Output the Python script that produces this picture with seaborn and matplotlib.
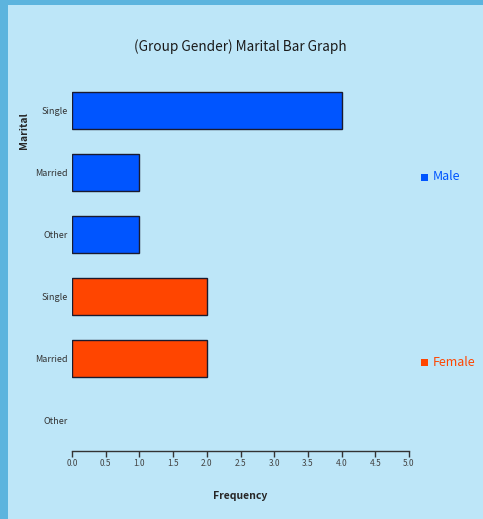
import pandas as pd
import matplotlib.pyplot as plt
import matplotlib.patches as mpatches
import seaborn as sns

# data
genders = ['Male', 'Male', 'Male', 'Female', 'Female', 'Female']
marital = ['Single', 'Married', 'Other', 'Single', 'Married', 'Other']
frequency = [4, 1, 1, 2, 2, 0]
gender_colors = {'Male': '#0055ff', 'Female': '#ff4500'}

df = pd.DataFrame({'Gender': genders, 'Marital': marital, 'Frequency': frequency})
df['key'] = df['Gender'] + ' ' + df['Marital']

sns.set_style('white')
plt.rcParams['font.family'] = ['Noto Sans CJK KR', 'DejaVu Sans']

fig = plt.figure(figsize=(4.83, 5.19), dpi=100)
fig.patch.set_facecolor('#5cb4de')
# light panel inside the window frame
fig.patches.append(mpatches.Rectangle((8 / 483, 0), 1, 1 - 5 / 519, transform=fig.transFigure,
                                      facecolor='#bde6f8', edgecolor='none', zorder=-10))

ax = fig.add_axes([72 / 483, 1 - 451 / 519, 337 / 483, 371 / 519])
ax.set_facecolor('none')

sns.barplot(data=df, x='Frequency', y='key', hue='Gender', palette=gender_colors,
            dodge=False, width=0.6, saturation=1, edgecolor='#1a1a2e', linewidth=1,
            legend=False, ax=ax)

# no outline for empty bars
for bar in ax.patches:
    if bar.get_width() == 0:
        bar.set_linewidth(0)

ax.set_xlim(0, 5)
ax.set_ylim(5.5, -0.5)
ax.set_xticks([0, 0.5, 1, 1.5, 2, 2.5, 3, 3.5, 4, 4.5, 5])
ax.set_xticklabels(['0.0', '0.5', '1.0', '1.5', '2.0', '2.5', '3.0', '3.5', '4.0', '4.5', '5.0'],
                   fontsize=6, color='#444444')
ax.set_yticks(range(len(marital)))
ax.set_yticklabels(marital, fontsize=6.5, color='#333333')
ax.tick_params(axis='y', length=0, pad=3)
ax.tick_params(axis='x', length=4, width=1, color='#333333', direction='out', pad=2, bottom=True)

for s in ['top', 'right', 'left']:
    ax.spines[s].set_visible(False)
ax.spines['bottom'].set_color('#333333')
ax.spines['bottom'].set_linewidth(1)

ax.set_xlabel('Frequency', fontsize=7.5, fontweight='bold', labelpad=16)
ax.set_ylabel('Marital', fontsize=7.5, fontweight='bold')
ax.yaxis.set_label_coords(-0.128, 0.865)

fig.text(240 / 483, 1 - 47 / 519, '(Group Gender) Marital Bar Graph', ha='center', va='center',
         fontsize=9.8, color='#1a1a1a', fontweight='medium')

# legend on the right
for g, ypix in [('Male', 177), ('Female', 362)]:
    fig.patches.append(mpatches.Rectangle((421 / 483, 1 - (ypix + 4) / 519), 7 / 483, 7 / 519,
                                          transform=fig.transFigure, facecolor=gender_colors[g],
                                          edgecolor='none'))
    fig.text(433 / 483, 1 - ypix / 519, g, ha='left', va='center', fontsize=9,
             color=gender_colors[g], fontweight='medium')

fig.savefig('out.png', dpi=100, facecolor=fig.get_facecolor())
